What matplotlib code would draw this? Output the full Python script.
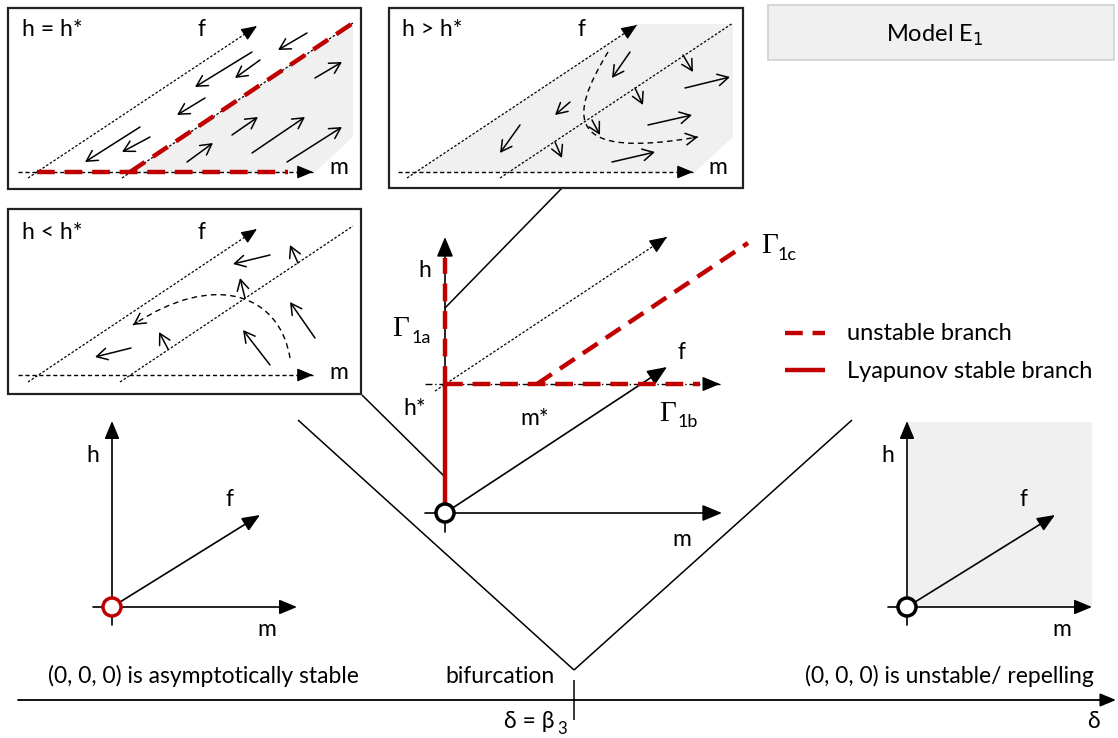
import matplotlib
matplotlib.use('Agg')
import matplotlib.pyplot as plt
from matplotlib.patches import Rectangle, Polygon, Circle, PathPatch
from matplotlib.path import Path
import numpy as np

RED = '#c00000'
GRAY = '#f0f0f0'
SANS = ['Lato', 'DejaVu Sans']
NARROW = ['Liberation Sans Narrow', 'Lato', 'DejaVu Sans']
SERIF = ['Liberation Serif', 'DejaVu Serif']

# ---------------- data (schematic geometry, canvas pixel units) ----------------
panel_titles = ['h = h*', 'h > h*', 'h < h*']
panel_frames = [(8, 8, 361, 189), (389, 8, 743, 188), (8, 209, 361, 394)]
panel_title_pos = [(22, 36), (402, 36), (22, 239)]
panel_f_pos = [(202, 36), (582, 36), (202, 239)]
panel_m_pos = [(339, 174), (718, 174), (339, 379)]
panel_m_axis = [((18, 172), (313, 172)), ((398, 172), (693, 172)), ((18, 375), (313, 375))]
panel_f_axis = [((28, 178), (257, 26)), ((407, 178), (637, 25)), ((28, 382), (257, 229))]
panel_diag = [((122, 178), (353, 23)), ((500, 178), (733, 23)), ((120, 382), (353, 226))]
panel_shade = [
    [(131, 172), (353, 23), (353, 137), (315, 172)],
    [(417, 172), (637, 24), (733, 24), (733, 137), (695, 172)],
    None,
]
# red unstable branch inside the h = h* panel
boxA_red = [((37, 172), (288, 172)), ((130, 172), (353, 23))]

boxA_arrows = [((307, 33), (278, 50)), ((252, 52), (195, 87)), ((260, 60), (235, 78)),
               ((205, 98), (177, 115)), ((140, 127), (85, 162)), ((150, 137), (122, 152)),
               ((315, 78), (342, 62)), ((232, 135), (258, 117)), ((252, 153), (305, 117)),
               ((187, 162), (213, 143)), ((287, 162), (342, 127))]
boxB_arrows = [((630, 52), (612, 78)), ((570, 102), (555, 115)), ((520, 125), (500, 153)),
               ((685, 88), (730, 77)), ((648, 125), (692, 115)), ((612, 162), (655, 152)),
               ((683, 55), (693, 72)), ((635, 88), (643, 105)), ((592, 120), (600, 135)),
               ((555, 142), (562, 158))]
boxC_arrows = [((270, 255), (233, 264)), ((131, 348), (95, 357)), ((270, 365), (243, 330)),
               ((315, 338), (290, 302)), ((298, 263), (290, 245)), ((245, 298), (240, 278)),
               ((168, 349), (159, 332))]
boxB_curve = [(608, 52), (568, 118), (565, 160), (698, 137)]
boxC_curve = [(290, 358), (280, 295), (215, 270), (133, 325)]

# central 3-D sketch
origin = (445, 513)
h_axis = ((445, 532), (445, 237))
m_axis = ((425, 513), (722, 513))
f_axis = ((445, 513), (667, 367))
hstar_line = ((425, 384), (720, 384))
hstar_diag = ((435, 391), (667, 237))
gamma_1a_stable = ((445, 513), (445, 384))
gamma_1a_unstable = ((445, 384), (445, 258))
gamma_1b = ((445, 384), (700, 384))
gamma_1c = ((537, 384), (748, 243))

# connectors / V shape
connectors = [((445, 308), (562, 188)), ((362, 395), (445, 477)),
              ((298, 420), (574, 670)), ((574, 670), (852, 420))]

# small side sketches
left_origin = (112, 607)
right_origin = (907, 607)
small_h = 185
small_m = 185
small_f = (148, -92)

# bottom delta axis
delta_axis = ((18, 700), (1116, 700))
delta_tick_x = 574
bottom_texts = ['(0, 0, 0) is asymptotically stable', 'bifurcation', '(0, 0, 0) is unstable/ repelling']

legend_labels = ['unstable branch', 'Lyapunov stable branch']

# ---------------- drawing ----------------
fig = plt.figure(figsize=(11.18, 7.38), dpi=100)
ax = fig.add_axes([0, 0, 1, 1])
ax.set_xlim(0, 1118)
ax.set_ylim(738, 0)
ax.axis('off')


def seg(p, q, **kw):
    ax.plot([p[0], q[0]], [p[1], q[1]], solid_capstyle='butt', **kw)


def arrow(tail, head, filled=True, lw=1.2, ms=20, color='k', z=4):
    if filled:
        style = '-|>,head_length=0.6,head_width=0.25'
    else:
        style = '->,head_length=0.55,head_width=0.3'
    ax.annotate('', xy=head, xytext=tail,
                arrowprops=dict(arrowstyle=style, lw=lw, color=color, mutation_scale=ms,
                                shrinkA=0, shrinkB=0), zorder=z)


def head_only(tail, head, ms=16, lw=1.0):
    t = np.array(tail, float)
    h = np.array(head, float)
    d = (h - t) / np.linalg.norm(h - t)
    arrow(tuple(h - d * 4), head, filled=True, lw=lw, ms=ms)


def dashed_arrow(tail, head, dash=(3, 2), lw=1.0, ms=16):
    seg(tail, head, color='k', lw=lw, dashes=dash, zorder=3)
    head_only(tail, head, ms=ms, lw=lw)


def txt(x, y, s, size=16.5, ha='center', family=SANS, **kw):
    ax.text(x, y, s, fontsize=size, ha=ha, va='baseline', family=family, **kw)


# panels
for i, (x0, y0, x1, y1) in enumerate(panel_frames):
    ax.add_patch(Rectangle((x0, y0), x1 - x0, y1 - y0, fill=False, ec='#222222', lw=1.6, zorder=6))
    if panel_shade[i] is not None:
        ax.add_patch(Polygon(panel_shade[i], closed=True, fc=GRAY, ec='none', zorder=1))
    dashed_arrow(panel_m_axis[i][0], panel_m_axis[i][1], dash=(3, 2), lw=1.0, ms=16)
    dashed_arrow(panel_f_axis[i][0], panel_f_axis[i][1], dash=(2, 1.5), lw=0.9, ms=16)
    seg(panel_diag[i][0], panel_diag[i][1], color='k', lw=0.9, dashes=(2, 1.5), zorder=3)
    txt(panel_title_pos[i][0], panel_title_pos[i][1], panel_titles[i], ha='left')
    txt(*panel_f_pos[i], 'f')
    txt(*panel_m_pos[i], 'm')

for p, q in boxA_red:
    seg(p, q, color=RED, lw=3.2, dashes=(4, 2.2), zorder=5)

for arrows in (boxA_arrows, boxB_arrows, boxC_arrows):
    for t, h in arrows:
        arrow(t, h, filled=False, lw=1.1, ms=14)

for pts in (boxB_curve, boxC_curve):
    path = Path(pts, [Path.MOVETO, Path.CURVE4, Path.CURVE4, Path.CURVE4])
    ax.add_patch(PathPatch(path, fill=False, ec='k', lw=1.0, ls=(0, (4, 3)), zorder=3))
    t = np.array(pts[3], float) - np.array(pts[2], float)
    t = t / np.linalg.norm(t)
    ax.annotate('', xy=pts[3], xytext=tuple(np.array(pts[3]) - t * 5),
                arrowprops=dict(arrowstyle='->,head_length=0.55,head_width=0.3', lw=1.1,
                                color='k', mutation_scale=14, shrinkA=0, shrinkB=0), zorder=4)

# Model E1 box
ax.add_patch(Rectangle((768, 5), 346, 55, fc=GRAY, ec='#d0d0d0', lw=1.2, zorder=1))
ax.text(935, 42, r'Model E$_{\mathrm{1}}$', fontsize=17, ha='center', va='baseline', family=SANS)

# connectors
for p, q in connectors:
    seg(p, q, color='k', lw=1.1, zorder=2)

# central sketch
arrow(h_axis[0], h_axis[1], ms=20)
arrow(m_axis[0], m_axis[1], ms=20)
arrow(f_axis[0], f_axis[1], ms=20)
seg(hstar_line[0], hstar_line[1], color='k', lw=1.0, ls=(0, (5, 2, 1, 2)), zorder=3)
head_only(*hstar_line, ms=18)
dashed_arrow(hstar_diag[0], hstar_diag[1], dash=(2, 1.5), lw=0.9, ms=18)
seg(*gamma_1a_stable, color=RED, lw=3.2, zorder=5)
seg(*gamma_1a_unstable, color=RED, lw=3.2, dashes=(4, 2.2), zorder=5)
seg(*gamma_1b, color=RED, lw=3.2, dashes=(4, 2.2), zorder=5)
seg(*gamma_1c, color=RED, lw=3.2, dashes=(4, 2.2), zorder=5)
ax.add_patch(Circle(origin, 9, fc='white', ec='k', lw=2.5, zorder=7))

txt(425, 277, 'h')
txt(415, 415, 'h*')
txt(535, 425, 'm*')
txt(682, 359, 'f')
txt(682, 546, 'm')
for (gx, gy), (sx, sy), sub in [((392, 336), (412, 343), '1a'),
                                 ((659, 421), (678, 427), '1b'),
                                 ((761, 253), (778, 260), '1c')]:
    txt(gx, gy, 'Γ', size=21, ha='left', family=SERIF)
    txt(sx, sy, sub, size=13, ha='left')

# legend
seg((785, 333), (825, 333), color=RED, lw=3.2, dashes=(4, 2.2), zorder=5)
seg((785, 370), (825, 370), color=RED, lw=3.2, zorder=5)
txt(847, 340, legend_labels[0], ha='left', size=17)
txt(847, 378, legend_labels[1], ha='left', size=17)

# small side sketches
ax.add_patch(Rectangle((right_origin[0], right_origin[1] - small_h), small_m, small_h,
                       fc=GRAY, ec='none', zorder=1))
for (ox, oy), ec in ((left_origin, RED), (right_origin, 'k')):
    arrow((ox, oy + 18), (ox, oy - small_h - 1), ms=18)
    arrow((ox - 19, oy), (ox + small_m, oy), ms=18)
    arrow((ox, oy), (ox + small_f[0], oy + small_f[1]), ms=18)
    ax.add_patch(Circle((ox, oy), 9, fc='white', ec=ec, lw=2.5, zorder=7))
    txt(ox - 19, oy - 145, 'h')
    txt(ox + 117, oy - 101, 'f')
    txt(ox + 155, oy + 29, 'm')

# bottom delta axis
arrow(delta_axis[0], delta_axis[1], ms=16, lw=1.3)
seg((delta_tick_x, 680), (delta_tick_x, 720), color='k', lw=1.1)
txt(203, 683, bottom_texts[0], family=NARROW, size=16.5)
txt(500, 683, bottom_texts[1], family=NARROW, size=16.5)
txt(1094, 683, bottom_texts[2], ha='right', family=NARROW, size=16.5)
txt(504, 728, 'δ = β', ha='left', family=NARROW, size=16.5)
txt(557, 734, '3', ha='left', family=NARROW, size=12)
txt(1093, 728, 'δ', family=NARROW, size=16.5)

fig.savefig('out.png', dpi=100)
